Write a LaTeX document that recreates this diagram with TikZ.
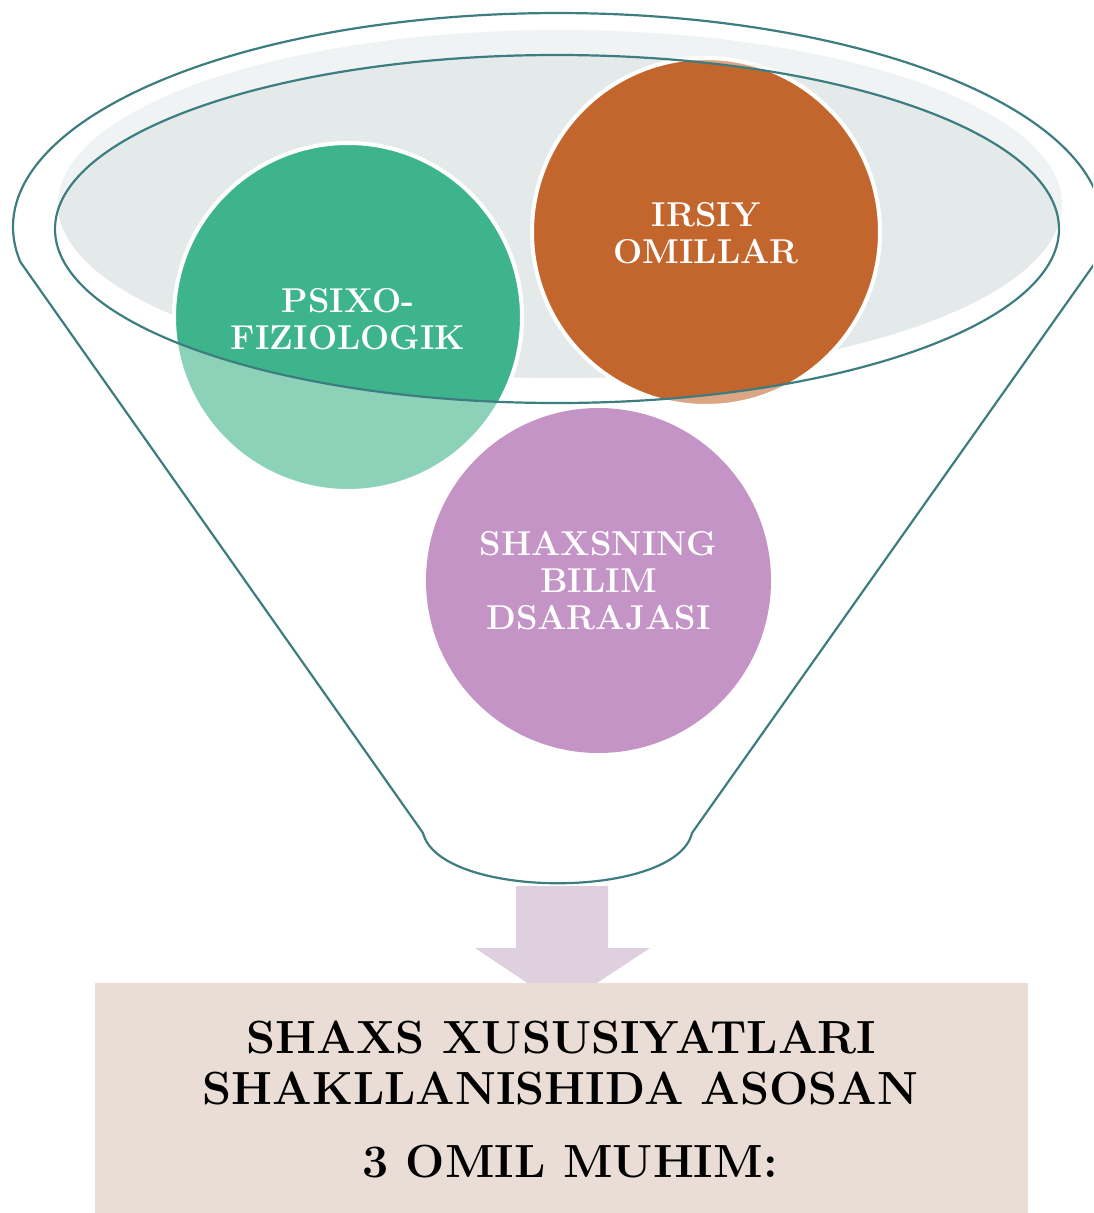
\documentclass[tikz,border=0pt]{standalone}
\usepackage{fontspec}
\definecolor{teal1}{HTML}{3D7D80}
\definecolor{greyA}{HTML}{EFF3F3}
\definecolor{greyB}{HTML}{E4EAEA}
\definecolor{greenD}{HTML}{3DB48B}
\definecolor{greenL}{HTML}{8BD2B9}
\definecolor{orangeD}{HTML}{C3662E}
\definecolor{orangeL}{HTML}{DCA583}
\definecolor{purpleC}{HTML}{C594C6}
\definecolor{arrowC}{HTML}{DED0DF}
\definecolor{boxC}{HTML}{EADDD5}
\tikzset{
  outline/.style={draw=teal1, line width=2.2pt},
  ctext/.style={text=white, font=\fontsize{34.5}{37}\selectfont\bfseries, align=center, inner sep=0pt},
  btext/.style={text=black, font=\fontsize{46.5}{51}\selectfont\bfseries, anchor=base, inner sep=0pt},
  ring/.style={draw=white, line width=4pt}
}
\begin{document}
\begin{tikzpicture}[x=1pt,y=1pt]
\useasboundingbox (0,0) rectangle (1093,-1213);
\clip (0,0) rectangle (1093,-1213);
% grey bowl
\fill[greyA] (560,-204) ellipse [x radius=502, y radius=174];
\begin{scope}
  \clip (557,-229) ellipse [x radius=502, y radius=174];
  \fill[greyB] (560,-204) ellipse [x radius=502, y radius=174];
\end{scope}
% green circle
\fill[greenL] (348,-317) circle [radius=173];
\begin{scope}
  \clip (557,-229) ellipse [x radius=502, y radius=174];
  \fill[greenD] (348,-317) circle [radius=173];
\end{scope}
\draw[ring] (348,-317) circle [radius=174];
% orange circle
\fill[orangeL] (706,-232) circle [radius=173];
\begin{scope}
  \clip (557,-229) ellipse [x radius=502, y radius=174];
  \fill[orangeD] (706,-232) circle [radius=173];
\end{scope}
\draw[ring] (706,-232) circle [radius=174];
% purple circle
\fill[purpleC] (598.5,-580.5) circle [radius=172.5];
% texts
\node[ctext] (psixo) at (348,-319) {PSIXO-\\FIZIOLOGIK};
\node[ctext] (irsiy) at (706,-233) {IRSIY\\OMILLAR};
\node[ctext] (shaxs) at (598.5,-580.5) {SHAXSNING\\BILIM\\DSARAJASI};
% funnel
\draw[outline] (557,-229) ellipse [x radius=502, y radius=174];
\draw[outline, line join=round] (423,-833) -- (20.4,-262)
  arc [start angle=189.41, end angle=-9.41, x radius=545, y radius=214]
  -- (692,-833) .. controls (676,-900) and (440,-900) .. (423,-833) -- cycle;
% arrow
\fill[arrowC] (516,-886) -- (608,-886) -- (608,-948) -- (650,-948) -- (562,-1006)
  -- (475,-948) -- (516,-948) -- cycle;
% box
\node[fill=boxC, minimum width=933pt, minimum height=240pt, anchor=north west, inner sep=0pt] (box) at (95,-983) {};
\node[btext] (l1) at (561.5,-1053) {SHAXS XUSUSIYATLARI};
\node[btext] (l2) at (560.5,-1104) {SHAKLLANISHIDA ASOSAN};
\node[btext] (l3) at (570,-1177) {3 OMIL MUHIM:};
\end{tikzpicture}
\end{document}
